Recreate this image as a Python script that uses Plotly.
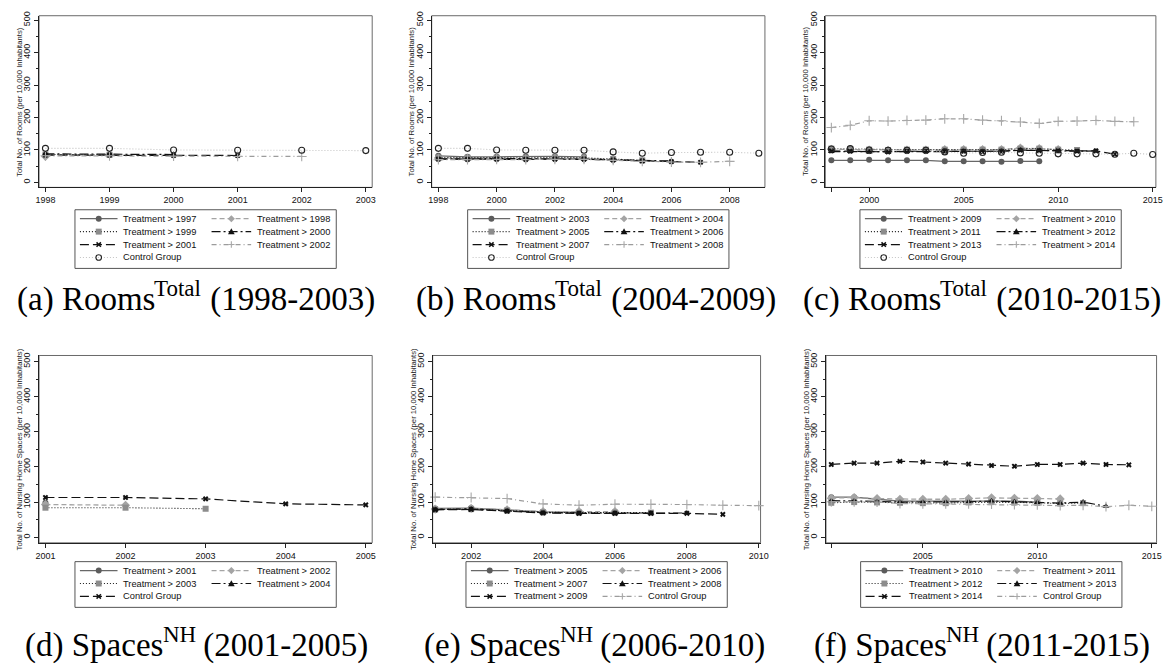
import plotly.graph_objects as go

FIG_W, FIG_H = 1172, 669
SANS = "Liberation Sans, Arial, sans-serif"
SERIF = "Liberation Serif, Times New Roman, serif"

# ---------------- data ----------------
rooms_years = list(range(1998, 2016))
spaces_years = list(range(2001, 2016))

# (a) Rooms total, treatment cohorts 1997-2002
rooms_a_t1997 = []
rooms_a_t1998 = [80]
rooms_a_t1999 = [86, 85]
rooms_a_t2000 = [88, 87, 86]
rooms_a_t2001 = [84, 84, 83, 83]
rooms_a_t2002 = [82, 82, 81, 80, 80]
rooms_a_control = [105, 105, 100, 99, 99, 98]

# (b) Rooms total, treatment cohorts 2003-2008
rooms_b_t2003 = [82, 79, 79, 80, 80, 79]
rooms_b_t2004 = [75, 74, 74, 73, 74, 73, 71]
rooms_b_t2005 = [77, 76, 76, 76, 77, 76, 72, 68]
rooms_b_t2006 = [73, 72, 74, 73, 74, 73, 70, 68, 66]
rooms_b_t2007 = [72, 71, 72, 71, 72, 72, 69, 66, 64, 62]
rooms_b_t2008 = [70, 70, 71, 70, 71, 71, 68, 65, 63, 62, 65]
rooms_b_control = [105, 105, 100, 99, 99, 99, 94, 90, 92, 93, 93, 90]

# (c) Rooms total, treatment cohorts 2009-2014
rooms_c_t2009 = [68, 68, 70, 68, 68, 68, 65, 65, 65, 64, 66, 65]
rooms_c_t2010 = [102, 101, 100, 99, 100, 100, 101, 101, 101, 101, 106, 104, 101]
rooms_c_t2011 = [104, 103, 101, 100, 101, 101, 101, 101, 101, 101, 104, 104, 101, 100]
rooms_c_t2012 = [95, 95, 94, 93, 95, 95, 95, 96, 95, 96, 100, 98, 96, 96, 97]
rooms_c_t2013 = [97, 96, 96, 94, 96, 96, 96, 96, 95, 96, 99, 98, 97, 96, 97, 87]
rooms_c_t2014 = [169, 176, 190, 189, 191, 192, 196, 196, 192, 190, 186, 182, 188, 189, 191, 188, 187]
rooms_c_control = [103, 104, 100, 99, 99, 99, 94, 90, 92, 93, 91, 90, 88, 88, 88, 87, 90, 86]

# (d) Nursing home spaces, treatment cohorts 2001-2004
spaces_d_t2001 = [98]
spaces_d_t2002 = [93, 91]
spaces_d_t2003 = [84, 84, 81]
spaces_d_t2004 = []
spaces_d_control = [113, 113, 109, 95, 92]

# (e) Nursing home spaces, treatment cohorts 2005-2009
spaces_e_t2005 = [82, 83, 78, 72, 71]
spaces_e_t2006 = [80, 82, 78, 73, 73, 73]
spaces_e_t2007 = [79, 80, 76, 71, 70, 70, 70]
spaces_e_t2008 = [79, 80, 75, 70, 69, 69, 69, 69]
spaces_e_t2009 = [78, 79, 74, 69, 68, 68, 68, 68, 65]
spaces_e_control = [114, 113, 110, 95, 91, 94, 94, 93, 91, 90]

# (f) Nursing home spaces, treatment cohorts 2010-2014
spaces_f_t2010 = [114, 114, 108, 103, 103, 103, 103, 105, 103, 100]
spaces_f_t2011 = [111, 113, 110, 108, 108, 108, 110, 112, 111, 110, 109]
spaces_f_t2012 = [98, 100, 99, 98, 97, 97, 99, 100, 99, 98, 96, 97]
spaces_f_t2013 = [104, 104, 102, 100, 100, 100, 101, 103, 101, 99, 97, 100, 88]
spaces_f_t2014 = [207, 211, 211, 216, 214, 211, 208, 204, 202, 207, 207, 211, 207, 206]
spaces_f_control = [101, 101, 100, 96, 95, 95, 95, 94, 93, 92, 90, 91, 87, 91, 88]

y_ticks = [0, 100, 200, 300, 400, 500]
y_minor = [50, 150, 250, 350, 450]

# ---------------- styles (Stata-like monochrome sequence) ----------------
STYLES = [
    dict(lc="#686868", lw=1.3, dash="solid", sym="circle", ms=6, mc="#5c5c5c"),
    dict(lc="#a4a4a4", lw=1.3, dash="5px,3px", sym="diamond", ms=7, mc="#a4a4a4"),
    dict(lc="#1a1a1a", lw=1.1, dash="1px,2px", sym="square", ms=6, mc="#8c8c8c"),
    dict(lc="#111111", lw=1.2, dash="9px,3px,2px,3px", sym="triangle-up", ms=6, mc="#111111"),
    dict(lc="#111111", lw=1.2, dash="9px,4px", sym="x", ms=5, mc="#111111"),
    dict(lc="#9c9c9c", lw=1.2, dash="5px,3px,1px,3px", sym="cross-thin-open", ms=7, mc="#a8a8a8"),
    dict(lc="#c4c4c4", lw=1.1, dash="1px,2px", sym="circle-open", ms=6, mc="#222222"),
]

ROOMS_TITLE = "Total No. of Rooms (per 10,000 Inhabitants)"
SPACES_TITLE = "Total No. of Nursing Home Spaces (per 10,000 Inhabitants)"

PANELS = [
    dict(xdom=(35.4, 372.0), ydom=(11.8, 184.5), xr=(1997.9, 2003.1), yr=(-15.3, 513.5),
         xt=[1998, 1999, 2000, 2001, 2002, 2003], xminor=[],
         years=rooms_years, ytitle=ROOMS_TITLE, legtop=207,
         series=[("Treatment > 1997", rooms_a_t1997), ("Treatment > 1998", rooms_a_t1998),
                 ("Treatment > 1999", rooms_a_t1999), ("Treatment > 2000", rooms_a_t2000),
                 ("Treatment > 2001", rooms_a_t2001), ("Treatment > 2002", rooms_a_t2002),
                 ("Control Group", rooms_a_control)],
         caption=("(a) ", "Rooms", "Total", " (1998-2003)"), capx=192, capy=297),
    dict(xdom=(432.1, 768.8), ydom=(11.8, 184.5), xr=(1997.77, 2009.21), yr=(-15.3, 513.5),
         xt=[1998, 2000, 2002, 2004, 2006, 2008], xminor=[],
         years=rooms_years, ytitle=ROOMS_TITLE, legtop=207,
         series=[("Treatment > 2003", rooms_b_t2003), ("Treatment > 2004", rooms_b_t2004),
                 ("Treatment > 2005", rooms_b_t2005), ("Treatment > 2006", rooms_b_t2006),
                 ("Treatment > 2007", rooms_b_t2007), ("Treatment > 2008", rooms_b_t2008),
                 ("Control Group", rooms_b_control)],
         caption=("(b) ", "Rooms", "Total", " (2004-2009)"), capx=596, capy=297),
    dict(xdom=(829.8, 1163.8), ydom=(11.8, 184.5), xr=(1997.68, 2015.17), yr=(-15.3, 513.5),
         xt=[2000, 2005, 2010, 2015], xminor=[1998],
         years=rooms_years, ytitle=ROOMS_TITLE, legtop=207,
         series=[("Treatment > 2009", rooms_c_t2009), ("Treatment > 2010", rooms_c_t2010),
                 ("Treatment > 2011", rooms_c_t2011), ("Treatment > 2012", rooms_c_t2012),
                 ("Treatment > 2013", rooms_c_t2013), ("Treatment > 2014", rooms_c_t2014),
                 ("Control Group", rooms_c_control)],
         caption=("(c) ", "Rooms", "Total", " (2010-2015)"), capx=986, capy=297),
    dict(xdom=(35.4, 372.0), ydom=(353.6, 542.1), xr=(2000.92, 2005.08), yr=(-16.0, 517.0),
         xt=[2001, 2002, 2003, 2004, 2005], xminor=[],
         years=spaces_years, ytitle=SPACES_TITLE, legtop=561,
         series=[("Treatment > 2001", spaces_d_t2001), ("Treatment > 2002", spaces_d_t2002),
                 ("Treatment > 2003", spaces_d_t2003), ("Treatment > 2004", spaces_d_t2004),
                 ("Control Group", spaces_d_control)],
         caption=("(d) ", "Spaces", "NH", " (2001-2005)"), capx=193, capy=645),
    dict(xdom=(433.1, 764.4), ydom=(353.6, 542.1), xr=(2000.93, 2010.05), yr=(-16.0, 517.0),
         xt=[2002, 2004, 2006, 2008, 2010], xminor=[2001],
         years=spaces_years, ytitle=SPACES_TITLE, legtop=561,
         series=[("Treatment > 2005", spaces_e_t2005), ("Treatment > 2006", spaces_e_t2006),
                 ("Treatment > 2007", spaces_e_t2007), ("Treatment > 2008", spaces_e_t2008),
                 ("Treatment > 2009", spaces_e_t2009), ("Control Group", spaces_e_control)],
         caption=("(e) ", "Spaces", "NH", " (2006-2010)"), capx=595, capy=645),
    dict(xdom=(830.5, 1164.5), ydom=(353.6, 542.1), xr=(2000.77, 2015.21), yr=(-16.0, 517.0),
         xt=[2005, 2010, 2015], xminor=[2001],
         years=spaces_years, ytitle=SPACES_TITLE, legtop=561,
         series=[("Treatment > 2010", spaces_f_t2010), ("Treatment > 2011", spaces_f_t2011),
                 ("Treatment > 2012", spaces_f_t2012), ("Treatment > 2013", spaces_f_t2013),
                 ("Treatment > 2014", spaces_f_t2014), ("Control Group", spaces_f_control)],
         caption=("(f) ", "Spaces", "NH", " (2011-2015)"), capx=987, capy=645),
]

# Times-compatible advance widths (per 1000 em) for laying out the captions
SERIF_W = {"(": 333, ")": 333, " ": 250, "-": 333, "a": 444, "b": 500, "c": 444,
           "d": 500, "e": 444, "f": 333, "l": 278, "m": 778, "o": 500, "p": 500,
           "s": 389, "t": 278, "H": 722, "N": 722, "R": 667, "S": 556, "T": 611}
CAP_SIZE = 33
SUP_SIZE = 23


def serif_width(text, size):
    return sum(SERIF_W.get(ch, 500) for ch in text) * size / 1000.0


def px(x):
    return x / FIG_W


def py(y):
    return 1 - y / FIG_H


fig = go.Figure()
shapes = []
annotations = []
layout_axes = {}


def marker_shapes(sym, cx, cy, st):
    """Small legend-key marker drawn with layout shapes (pixel coordinates)."""
    out = []
    col = st["mc"]
    if sym == "circle":
        r = 3
        out.append(dict(type="circle", xref="paper", yref="paper",
                        x0=px(cx - r), x1=px(cx + r), y0=py(cy + r), y1=py(cy - r),
                        fillcolor=col, line=dict(width=0)))
    elif sym == "circle-open":
        r = 2.8
        out.append(dict(type="circle", xref="paper", yref="paper",
                        x0=px(cx - r), x1=px(cx + r), y0=py(cy + r), y1=py(cy - r),
                        fillcolor="rgba(0,0,0,0)", line=dict(width=1.1, color=col)))
    elif sym == "square":
        r = 3
        out.append(dict(type="rect", xref="paper", yref="paper",
                        x0=px(cx - r), x1=px(cx + r), y0=py(cy + r), y1=py(cy - r),
                        fillcolor=col, line=dict(width=0)))
    elif sym == "diamond":
        r = 3.6
        p = (f"M{px(cx)},{py(cy - r)} L{px(cx + r)},{py(cy)} "
             f"L{px(cx)},{py(cy + r)} L{px(cx - r)},{py(cy)} Z")
        out.append(dict(type="path", xref="paper", yref="paper", path=p,
                        fillcolor=col, line=dict(width=0)))
    elif sym == "triangle-up":
        r = 3.4
        p = (f"M{px(cx)},{py(cy - r)} L{px(cx + r)},{py(cy + r * 0.8)} "
             f"L{px(cx - r)},{py(cy + r * 0.8)} Z")
        out.append(dict(type="path", xref="paper", yref="paper", path=p,
                        fillcolor=col, line=dict(width=0)))
    elif sym == "x":
        r = 2.2
        p = (f"M{px(cx - r)},{py(cy - r)} L{px(cx + r)},{py(cy + r)} "
             f"M{px(cx - r)},{py(cy + r)} L{px(cx + r)},{py(cy - r)}")
        out.append(dict(type="path", xref="paper", yref="paper", path=p,
                        line=dict(width=1.5, color=col)))
    elif sym == "cross-thin-open":
        r = 3.2
        p = (f"M{px(cx - r)},{py(cy)} L{px(cx + r)},{py(cy)} "
             f"M{px(cx)},{py(cy - r)} L{px(cx)},{py(cy + r)}")
        out.append(dict(type="path", xref="paper", yref="paper", path=p,
                        line=dict(width=1.1, color=col)))
    return out


def caption_annotations(parts, cx, cy):
    """Sub-figure caption: label + name, raised superscript, period."""
    label, name, sup, period = parts
    main1 = label + name
    w1 = serif_width(main1, CAP_SIZE)
    ws = serif_width(sup, SUP_SIZE)
    w3 = serif_width(period, CAP_SIZE)
    left = cx - (w1 + ws + w3) / 2
    font_main = dict(family=SERIF, size=CAP_SIZE, color="#000000")
    font_sup = dict(family=SERIF, size=SUP_SIZE, color="#000000")
    common = dict(xref="paper", yref="paper", showarrow=False, xanchor="left",
                  yanchor="middle", borderpad=0)
    return [
        dict(x=px(left), y=py(cy), text=main1, font=font_main, **common),
        dict(x=px(left + w1 + 0.5), y=py(cy - 11), text=sup, font=font_sup, **common),
        dict(x=px(left + w1 + ws), y=py(cy), text=period, font=font_main, **common),
    ]


for i, pnl in enumerate(PANELS):
    sfx = "" if i == 0 else str(i + 1)
    xname, yname = "x" + sfx, "y" + sfx
    x0p, x1p = pnl["xdom"]
    y0p, y1p = pnl["ydom"]

    axis_font = dict(family=SANS, size=9, color="#111111")
    xaxis = dict(
        domain=[px(x0p), px(x1p)], range=list(pnl["xr"]), anchor=yname,
        tickmode="array", tickvals=pnl["xt"], ticktext=[str(v) for v in pnl["xt"]],
        ticks="outside", ticklen=4, tickwidth=1, tickcolor="#222222",
        showline=True, linecolor="#222222", linewidth=1,
        showgrid=False, zeroline=False, tickfont=axis_font, fixedrange=True)
    if pnl["xminor"]:
        xaxis["minor"] = dict(tickmode="array", tickvals=pnl["xminor"], ticks="outside",
                              ticklen=4, tickwidth=1, tickcolor="#222222", showgrid=False)
    layout_axes["xaxis" + sfx] = xaxis
    layout_axes["yaxis" + sfx] = dict(
        domain=[py(y1p), py(y0p)], range=list(pnl["yr"]), anchor=xname,
        tickmode="array", tickvals=y_ticks, ticktext=[str(v) for v in y_ticks],
        tickangle=-90, ticks="outside", ticklen=4, tickwidth=1, tickcolor="#222222",
        minor=dict(tickmode="array", tickvals=y_minor, ticks="outside", ticklen=2,
                   tickwidth=1, tickcolor="#222222", showgrid=False),
        showline=True, linecolor="#222222", linewidth=1,
        showgrid=False, zeroline=False, tickfont=axis_font, fixedrange=True)

    # plot region frame
    shapes.append(dict(type="rect", xref=xname + " domain", yref=yname + " domain",
                       x0=0, x1=1, y0=0, y1=1, line=dict(color="#6a6a6a", width=1),
                       layer="below"))

    # series
    for k, (label, vals) in enumerate(pnl["series"]):
        if not vals:
            continue
        st = STYLES[k]
        mk = dict(symbol=st["sym"], size=st["ms"], color=st["mc"])
        if st["sym"] in ("cross-thin-open", "circle-open"):
            mk["line"] = dict(width=1.1, color=st["mc"])
        else:
            mk["line"] = dict(width=0)
        fig.add_trace(go.Scatter(
            x=pnl["years"][:len(vals)], y=vals, mode="lines+markers", name=label,
            xaxis=xname, yaxis=yname, showlegend=False, cliponaxis=False,
            line=dict(color=st["lc"], width=st["lw"], dash=st["dash"]),
            marker=mk, hoverinfo="x+y+name"))

    # y-axis title
    annotations.append(dict(
        xref="paper", yref="paper", x=px(x0p - 20), y=py((y0p + y1p) / 2),
        text=pnl["ytitle"], textangle=-90, showarrow=False,
        xanchor="center", yanchor="middle",
        font=dict(family=SANS, size=7.7, color="#222222")))

    # legend box (two columns, row-major order)
    cx = (x0p + x1p) / 2
    left, right = cx - 132, cx + 132
    n = len(pnl["series"])
    rows = (n + 1) // 2
    top = pnl["legtop"]
    bottom = top + 9 + 13 * (rows - 1) + 11
    shapes.append(dict(type="rect", xref="paper", yref="paper",
                       x0=px(left), x1=px(right), y0=py(bottom), y1=py(top),
                       fillcolor="white", line=dict(color="#555555", width=1)))
    for k, (label, vals) in enumerate(pnl["series"]):
        st = STYLES[k]
        r, c = divmod(k, 2)
        yy = top + 9 + 13 * r
        gx0 = left + (5 if c == 0 else 138)
        gx1 = left + (43 if c == 0 else 178)
        tx = left + (47 if c == 0 else 182)
        shapes.append(dict(type="line", xref="paper", yref="paper",
                           x0=px(gx0), x1=px(gx1), y0=py(yy), y1=py(yy),
                           line=dict(color=st["lc"], width=st["lw"], dash=st["dash"])))
        shapes.extend(marker_shapes(st["sym"], (gx0 + gx1) / 2, yy, st))
        annotations.append(dict(
            xref="paper", yref="paper", x=px(tx), y=py(yy), text=label,
            showarrow=False, xanchor="left", yanchor="middle",
            font=dict(family=SANS, size=9.3, color="#111111")))

    # caption
    annotations.extend(caption_annotations(pnl["caption"], pnl["capx"], pnl["capy"]))

fig.update_layout(
    width=FIG_W, height=FIG_H, autosize=False,
    margin=dict(l=0, r=0, t=0, b=0, pad=0),
    paper_bgcolor="white", plot_bgcolor="white",
    showlegend=False, shapes=shapes, annotations=annotations,
    **layout_axes)

fig.write_html("out.html")
